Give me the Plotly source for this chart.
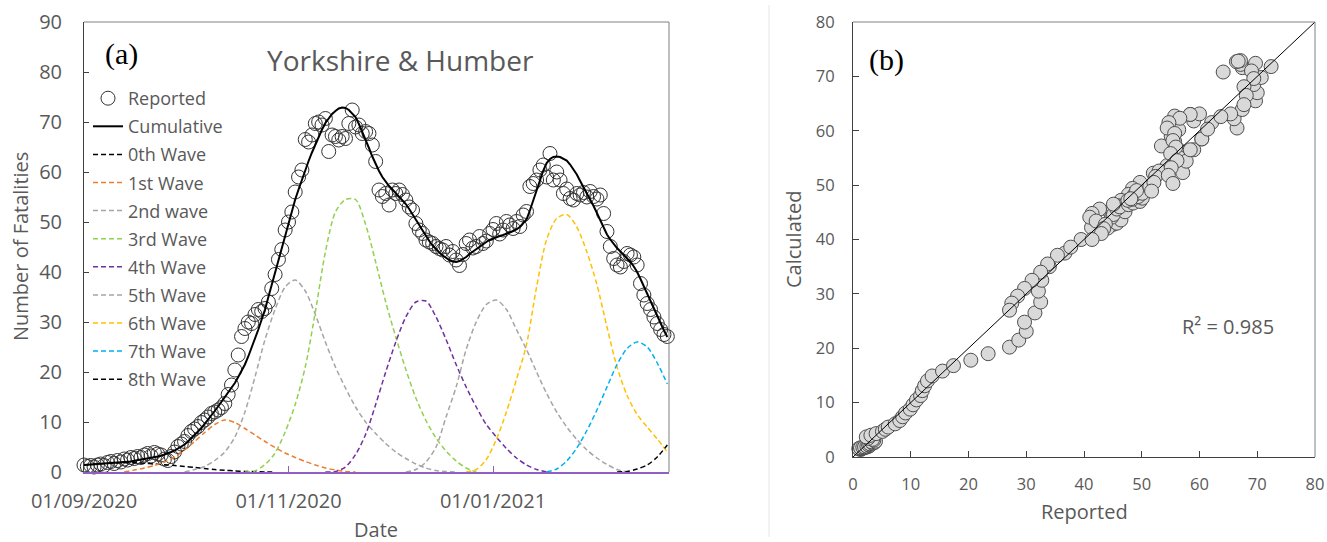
import pandas as pd
import plotly.graph_objects as go

# ---------------- data ----------------
start_date = "2020-09-01"          # day 0 of the daily series

reported = [
    1.4, 1.1, 1.3, 1.0, 1.4, 1.6, 1.3, 1.9, 2.1, 1.7,
    2.3, 2.0, 2.6, 2.4, 2.9, 2.7, 3.1, 2.9, 3.4, 3.7,
    3.2, 3.9, 3.6, 3.4, 2.6, 2.3, 3.1, 4.0, 5.1, 5.6,
    6.1, 7.3, 8.1, 8.6, 9.1, 9.9, 10.4, 11.0, 11.7, 12.0,
    12.4, 12.9, 13.7, 15.5, 17.4, 20.4, 23.4, 27.1, 28.7, 30.0,
    29.7, 31.5, 32.5, 32.1, 32.7, 34.0, 36.7, 39.5, 42.5, 44.5,
    48.4, 50.0, 52.0, 56.0, 59.0, 60.4, 66.5, 66.0, 67.4, 69.7,
    70.0, 69.4, 70.7, 64.1, 67.4, 67.1, 66.4, 67.1, 66.7, 69.7,
    72.4, 69.0, 69.4, 67.7, 68.1, 67.7, 65.4, 62.1, 56.4, 55.1,
    55.7, 53.4, 56.4, 55.7, 56.4, 55.5, 54.4, 53.0, 52.4, 49.7,
    48.4, 47.7, 46.4, 46.0, 45.7, 45.1, 44.7, 44.4, 45.1, 43.4,
    44.1, 42.4, 41.3, 43.5, 45.7, 46.4, 44.8, 45.1, 47.1, 45.7,
    46.2, 47.7, 48.5, 49.7, 47.6, 48.4, 50.1, 49.4, 48.7, 50.1,
    49.1, 51.4, 52.1, 57.1, 57.7, 58.4, 60.4, 61.4, 59.0, 63.7,
    58.4, 60.0, 58.4, 55.7, 56.6, 54.7, 54.4, 55.7, 55.4, 55.9,
    55.0, 56.1, 55.1, 54.6, 55.4, 51.7, 48.1, 45.1, 42.7, 41.4,
    41.0, 42.1, 43.7, 43.4, 43.0, 41.4, 37.7, 35.4, 33.7, 32.5,
    31.0, 29.7, 28.5, 27.5, 27.1,
]

cumulative = [
    1.4, 1.45, 1.5, 1.55, 1.6, 1.65, 1.7, 1.73, 1.77, 1.8,
    1.83, 1.87, 1.9, 2.0, 2.1, 2.25, 2.35, 2.45, 2.55, 2.65,
    2.8, 2.9, 3.1, 3.25, 3.45, 3.7, 4.0, 4.3, 4.7, 5.1,
    5.5, 6.1, 6.7, 7.4, 8.1, 8.8, 9.6, 10.5, 11.3, 12.2,
    13.1, 14.0, 14.9, 15.8, 16.8, 17.8, 19.0, 20.2, 21.5, 23.1,
    24.8, 26.5, 28.5, 30.5, 32.5, 35.0, 37.5, 40.0, 42.5, 45.0,
    47.5, 49.8, 52.2, 54.5, 56.5, 58.5, 60.5, 62.2, 63.9, 65.5,
    67.0, 68.5, 69.8, 70.8, 71.6, 72.2, 72.7, 72.9, 72.8, 72.4,
    71.8, 71.0, 69.6, 68.1, 66.5, 64.8, 63.1, 61.5, 60.2, 59.0,
    58.0, 57.2, 56.5, 55.8, 55.1, 54.4, 53.6, 52.6, 51.6, 50.5,
    49.4, 48.3, 47.2, 46.2, 45.3, 44.5, 43.9, 43.3, 42.8, 42.4,
    42.1, 42.0, 42.2, 42.6, 43.0, 43.6, 44.1, 44.6, 45.1, 45.6,
    46.0, 46.4, 46.7, 47.0, 47.2, 47.4, 47.6, 47.9, 48.2, 48.5,
    49.0, 49.7, 50.5, 52.3, 54.4, 56.5, 58.5, 60.3, 61.8, 62.6,
    63.0, 63.1, 63.0, 62.7, 62.3, 61.5, 60.5, 59.5, 58.2, 57.0,
    55.8, 54.5, 53.2, 51.8, 50.3, 48.9, 47.5, 46.5, 45.6, 44.8,
    44.1, 43.4, 42.8, 42.0, 41.1, 40.0, 38.6, 37.1, 35.5, 34.0,
    32.5, 31.0, 29.6, 28.3, 27.0,
]

wave_names = ["0th Wave", "1st Wave", "2nd wave", "3rd Wave", "4th Wave",
              "5th Wave", "6th Wave", "7th Wave", "8th Wave"]
wave_first_day = [0, 12, 30, 48, 72, 96, 114, 138, 159]   # day of first value
wave_day_step = 3                                        # values every 3 days

wave0 = [1.4, 1.55, 1.7, 1.8, 1.85, 1.85, 1.75, 1.6, 1.45, 1.3, 1.1, 0.9, 0.7,
         0.5, 0.35, 0.22, 0.12, 0.06, 0.02, 0]
wave1 = [0, 0.4, 0.8, 1.3, 2.0, 3.0, 4.4, 6.1, 7.9, 9.5, 10.4, 9.9, 8.7, 7.4,
         6.1, 4.9, 3.8, 2.9, 2.1, 1.4, 0.8, 0.4, 0.1, 0]
wave2 = [0, 0.5, 1.1, 2.3, 4.0, 7.0, 12.0, 19.0, 26.5, 32.5, 37.0, 38.4, 36.2,
         31.5, 26.0, 21.0, 16.8, 13.0, 10.0, 7.7, 5.7, 4.0, 2.7, 1.6, 0.8, 0.3,
         0.1, 0]
wave3 = [0, 0.2, 1.5, 3.8, 8.0, 13.5, 21.0, 32.0, 44.0, 52.0, 54.5, 54.5, 49.5,
         42.0, 34.0, 27.0, 20.5, 14.8, 10.3, 6.8, 4.2, 2.2, 0.8, 0]
wave4 = [0, 0.1, 1.0, 3.5, 7.5, 13.5, 20.0, 26.0, 31.0, 34.0, 34.2, 31.0, 26.5,
         21.5, 17.0, 13.0, 9.5, 7.0, 4.7, 2.8, 1.4, 0.5, 0]
wave5 = [0, 0.5, 2.0, 5.0, 11.0, 17.0, 24.5, 30.0, 33.5, 34.4, 32.5, 28.5, 24.5,
         20.0, 15.7, 12.0, 9.0, 6.5, 4.4, 2.8, 1.5, 0.5, 0]
wave6 = [0, 0.5, 2.5, 6.5, 12.0, 18.5, 25.5, 37.0, 46.5, 50.7, 51.5, 49.0, 44.0,
         37.5, 29.0, 21.0, 15.3, 11.5, 9.0, 6.6, 4.0]
wave7 = [0, 0.6, 2.2, 4.8, 8.3, 12.4, 17.0, 21.5, 24.7, 26.0, 25.0, 21.8, 17.6]
wave8 = [0, 0.1, 0.6, 1.4, 3.0, 5.4]
waves = [wave0, wave1, wave2, wave3, wave4, wave5, wave6, wave7, wave8]

x_tick_dates = ["2020-09-01", "2020-11-01", "2021-01-01"]
x_tick_labels = ["01/09/2020", "01/11/2020", "01/01/2021"]
left_x_range = ["2020-09-01", "2021-02-22 12:00"]
left_y_range = [0, 90]
right_range = [0, 80]
identity_line = [0, 80]
r_squared_text = "R² = 0.985"

# ---------------- styles ----------------
wave_colors = ["#000000", "#ed7d31", "#a5a5a5", "#92d050", "#7030a0",
               "#a5a5a5", "#ffc000", "#00b0f0", "#000000"]
FONT = "Open Sans"
TXT = "#595959"
W, H = 1327, 542


def px(x):
    return x / W


def py(y):
    return 1 - y / H


t0 = pd.Timestamp(start_date)
dates = [t0 + pd.Timedelta(days=d) for d in range(len(reported))]

fig = go.Figure()

fig.add_trace(go.Scatter(
    x=dates, y=reported, mode="markers", name="Reported", legendgroup="Reported",
    marker=dict(symbol="circle-open", size=14, color="#333333",
                line=dict(width=1, color="#333333")),
    cliponaxis=False, xaxis="x", yaxis="y"))

fig.add_trace(go.Scatter(
    x=dates, y=cumulative, mode="lines", name="Cumulative", legendgroup="Cumulative",
    line=dict(color="#000000", width=2), xaxis="x", yaxis="y"))

for name, vals, first, col in zip(wave_names, waves, wave_first_day, wave_colors):
    wd = [t0 + pd.Timedelta(days=first + wave_day_step * k) for k in range(len(vals))]
    fig.add_trace(go.Scatter(
        x=wd, y=vals, mode="lines", name=name, legendgroup=name,
        line=dict(color=col, width=1.5, dash="5px,3px", shape="spline", smoothing=0.8),
        xaxis="x", yaxis="y"))

# right panel: reported vs calculated
fig.add_trace(go.Scatter(
    x=reported, y=cumulative, mode="markers", showlegend=False,
    marker=dict(symbol="circle", size=14, color="#d9d9d9",
                line=dict(width=1, color="#4d4d4d")),
    cliponaxis=False, xaxis="x2", yaxis="y2"))
fig.add_trace(go.Scatter(
    x=identity_line, y=identity_line, mode="lines", showlegend=False,
    line=dict(color="#000000", width=1), xaxis="x2", yaxis="y2"))

tickfont_l = dict(family=FONT, size=20, color=TXT)
tickfont_r = dict(family=FONT, size=16.5, color=TXT)

fig.update_layout(
    width=W, height=H, margin=dict(l=0, r=0, t=0, b=0, autoexpand=False),
    paper_bgcolor="white", plot_bgcolor="white",
    font=dict(family=FONT, color=TXT),
    xaxis=dict(domain=[px(84), px(669)], anchor="y", type="date", range=left_x_range,
               tickvals=x_tick_dates, ticktext=x_tick_labels, ticks="inside", ticklen=6,
               tickcolor="#8e5fc4", showline=True, linecolor="#8e5fc4", linewidth=1.5,
               showgrid=False, zeroline=False, tickfont=tickfont_l, automargin=False,
               ticklabelstandoff=10, layer="above traces"),
    yaxis=dict(domain=[py(472), py(22)], anchor="x", range=left_y_range, dtick=10,
               ticks="inside", ticklen=5, tickcolor="#404040", showline=True,
               linecolor="#404040", showgrid=False, zeroline=False, tickfont=tickfont_l,
               automargin=False, ticklabelstandoff=17, layer="above traces"),
    xaxis2=dict(domain=[px(853), px(1315)], anchor="y2", range=right_range, dtick=10,
                ticks="inside", ticklen=6, tickcolor="#404040", showline=True,
                linecolor="#404040", showgrid=False, zeroline=False, tickfont=tickfont_r,
                automargin=False, ticklabelstandoff=12),
    yaxis2=dict(domain=[py(457), py(22)], anchor="x2", range=right_range, dtick=10,
                ticks="inside", ticklen=6, tickcolor="#404040", showline=True,
                linecolor="#404040", showgrid=False, zeroline=False, tickfont=tickfont_r,
                automargin=False, ticklabelstandoff=14),
    legend=dict(x=px(88), y=py(80), xanchor="left", yanchor="top",
                bgcolor="rgba(0,0,0,0)", font=dict(family=FONT, size=18, color=TXT),
                itemsizing="trace", tracegroupgap=1.7, traceorder="grouped"),
    showlegend=True,
)

shapes = [
    # plot frames (top and right edges)
    dict(type="line", xref="x domain", yref="y domain", x0=0, x1=1, y0=1, y1=1,
         line=dict(color="#808080", width=1)),
    dict(type="line", xref="x domain", yref="y domain", x0=1, x1=1, y0=0, y1=1,
         line=dict(color="#808080", width=1)),
    dict(type="line", xref="x2 domain", yref="y2 domain", x0=0, x1=1, y0=1, y1=1,
         line=dict(color="#808080", width=1)),
    dict(type="line", xref="x2 domain", yref="y2 domain", x0=1, x1=1, y0=0, y1=1,
         line=dict(color="#808080", width=1)),
    # separator between panels
    dict(type="line", xref="paper", yref="paper", x0=px(769), x1=px(769),
         y0=py(537), y1=py(5), line=dict(color="#e6e6e6", width=1)),
]
fig.update_layout(shapes=shapes)

ann = [
    dict(text="Yorkshire &amp; Humber", x=px(400), y=py(60), font=dict(size=28)),
    dict(text="(a)", x=px(121), y=py(54),
         font=dict(family="Liberation Serif", size=30, color="#000000")),
    dict(text="(b)", x=px(886), y=py(60),
         font=dict(family="Liberation Serif", size=30, color="#000000")),
    dict(text="Number of Fatalities", x=px(21), y=py(247), textangle=-90, font=dict(size=20)),
    dict(text="Date", x=px(376), y=py(529), font=dict(size=20)),
    dict(text="Calculated", x=px(793), y=py(240), textangle=-90, font=dict(size=20)),
    dict(text="Reported", x=px(1084), y=py(511), font=dict(size=20)),
    dict(text=r_squared_text, x=px(1228), y=py(326), font=dict(size=20)),
]
for a in ann:
    f = dict(family=FONT, color=TXT)
    f.update(a.pop("font"))
    fig.add_annotation(xref="paper", yref="paper", showarrow=False,
                       xanchor="center", yanchor="middle", font=f, **a)

fig.write_html("out.html", config={"displayModeBar": False},
               post_script="document.body.style.margin='0';")
